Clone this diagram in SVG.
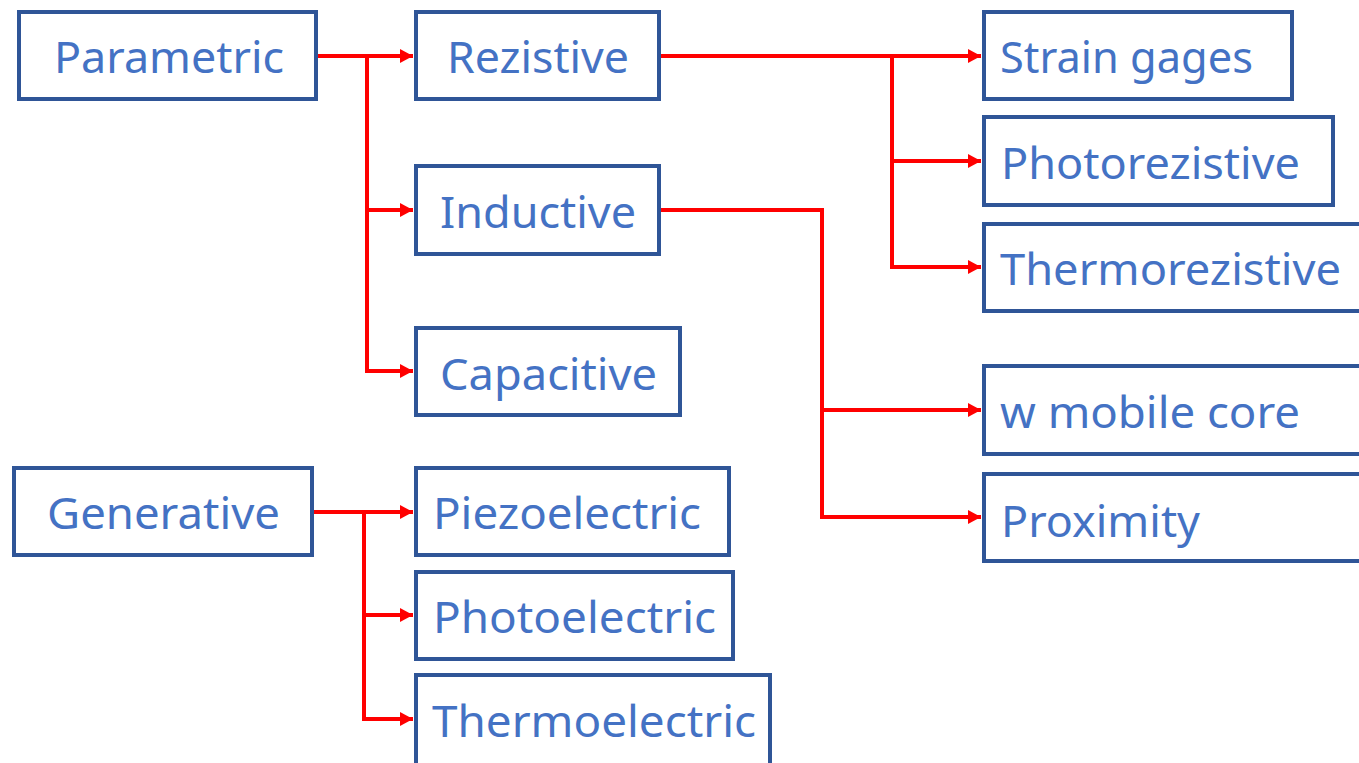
<svg xmlns="http://www.w3.org/2000/svg" width="1359" height="763" viewBox="0 0 1359 763">
<style>
.box{fill:#ffffff;stroke:#2F5597;stroke-width:4}
.lbl{font-family:"Noto Sans","Liberation Sans",sans-serif;font-size:44px;fill:#4472C4}
.con{fill:none;stroke:#FF0000;stroke-width:4}
</style>
<defs>
<marker id="arr" markerUnits="userSpaceOnUse" markerWidth="14" markerHeight="14" refX="13" refY="7" orient="auto">
<path d="M0,0 L13,7 L0,14 z" fill="#FF0000"/>
</marker>
</defs>
<rect width="1359" height="763" fill="#ffffff"/>
<g id="connectors">
<path class="con" d="M318,56 H413" marker-end="url(#arr)"/>
<path class="con" d="M367,56 V371 H413" marker-end="url(#arr)"/>
<path class="con" d="M367,210 H413" marker-end="url(#arr)"/>
<path class="con" d="M661,56 H981" marker-end="url(#arr)"/>
<path class="con" d="M892,56 V267 H981" marker-end="url(#arr)"/>
<path class="con" d="M892,161 H981" marker-end="url(#arr)"/>
<path class="con" d="M661,210 H822 V517 H981" marker-end="url(#arr)"/>
<path class="con" d="M822,410 H981" marker-end="url(#arr)"/>
<path class="con" d="M314,512 H413" marker-end="url(#arr)"/>
<path class="con" d="M364,512 V719 H413" marker-end="url(#arr)"/>
<path class="con" d="M364,615 H413" marker-end="url(#arr)"/>
</g>
<g id="parametric"><rect class="box" x="19" y="12" width="297" height="87"/><text class="lbl" x="54" y="73" textLength="230" lengthAdjust="spacingAndGlyphs">Parametric</text></g>
<g id="rezistive"><rect class="box" x="416" y="12" width="243" height="87"/><text class="lbl" x="447" y="73" textLength="182" lengthAdjust="spacingAndGlyphs">Rezistive</text></g>
<g id="inductive"><rect class="box" x="416" y="166" width="243" height="88"/><text class="lbl" x="440" y="228" textLength="196" lengthAdjust="spacingAndGlyphs">Inductive</text></g>
<g id="capacitive"><rect class="box" x="416" y="328" width="264" height="87"/><text class="lbl" x="440" y="390" textLength="217" lengthAdjust="spacingAndGlyphs">Capacitive</text></g>
<g id="generative"><rect class="box" x="14" y="468" width="298" height="87"/><text class="lbl" x="47" y="529" textLength="233" lengthAdjust="spacingAndGlyphs">Generative</text></g>
<g id="piezoelectric"><rect class="box" x="416" y="468" width="313" height="87"/><text class="lbl" x="433" y="529" textLength="268" lengthAdjust="spacingAndGlyphs">Piezoelectric</text></g>
<g id="photoelectric"><rect class="box" x="416" y="572" width="317" height="87"/><text class="lbl" x="433" y="633" textLength="283" lengthAdjust="spacingAndGlyphs">Photoelectric</text></g>
<g id="thermoelectric"><rect class="box" x="416" y="675" width="354" height="100"/><text class="lbl" x="432" y="737" textLength="324" lengthAdjust="spacingAndGlyphs">Thermoelectric</text></g>
<g id="strain-gages"><rect class="box" x="984" y="12" width="308" height="87"/><text class="lbl" x="1000" y="73" textLength="253" lengthAdjust="spacingAndGlyphs">Strain gages</text></g>
<g id="photorezistive"><rect class="box" x="984" y="117" width="349" height="88"/><text class="lbl" x="1001" y="179" textLength="299" lengthAdjust="spacingAndGlyphs">Photorezistive</text></g>
<g id="thermorezistive"><rect class="box" x="984" y="224" width="400" height="87"/><text class="lbl" x="1000" y="285" textLength="341" lengthAdjust="spacingAndGlyphs">Thermorezistive</text></g>
<g id="mobile-core"><rect class="box" x="984" y="366" width="400" height="88"/><text class="lbl" x="1000" y="428" textLength="300" lengthAdjust="spacingAndGlyphs">w mobile core</text></g>
<g id="proximity"><rect class="box" x="984" y="474" width="400" height="87"/><text class="lbl" x="1001" y="537" textLength="199" lengthAdjust="spacingAndGlyphs">Proximity</text></g>
</svg>
